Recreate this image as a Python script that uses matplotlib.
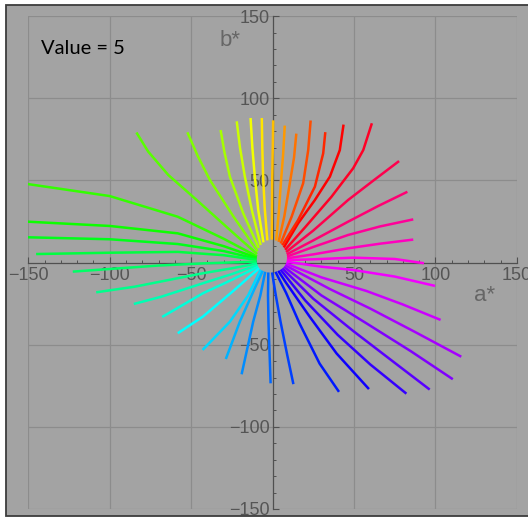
import matplotlib.pyplot as plt
from matplotlib.patches import Rectangle
from matplotlib.ticker import MultipleLocator
from matplotlib.colors import hsv_to_rgb

# hue lines at value 5, listed counterclockwise starting from the green one at upper left
# each line runs from its outer end towards the centre
curve_a = [
    [-150.3, -100, -58.2, -30, -9.6],
    [-150.3, -100, -58.2, -30, -9.7],
    [-150.3, -100, -58.2, -30, -9.8],
    [-145.2, -100, -58.2, -30, -9.8],
    [-122.7, -100, -70, -42.8, -9.7],
    [-108.3, -84.8, -42.8, -25, -9.5],
    [-85.2, -68.4, -42.8, -25, -9.2],
    [-67.8, -42.8, -25, -8.8],
    [-58.2, -42.8, -25, -8.2],
    [-43.0, -26.2, -15, -7.3],
    [-28.7, -20.1, -12, -6.0],
    [-19.0, -11.9, -7.5, -4.5],
    [-1.2, -2.5, -2.8, -2.6],
    [12.8, 9.0, 4.9, 2.0, -0.3],
    [40.8, 28.9, 16.5, 8.3, 1.8],
    [59.2, 39.3, 22.7, 8.3, 3.5],
    [82.2, 60, 40, 20, 4.9],
    [96.5, 75, 50, 25, 6.0],
    [110.7, 85, 57.7, 30, 7.0],
    [115.9, 88, 60, 35, 7.7],
    [103.2, 80, 57.7, 30, 8.2],
    [99.8, 75, 49.5, 30, 8.6],
    [93.0, 75, 49.5, 25, 8.8],
    [86.4, 66, 46.4, 25, 8.9],
    [86.4, 66, 46.4, 25, 8.9],
    [82.8, 65, 46.4, 25, 8.7],
    [77.7, 62, 46.4, 25, 8.3],
    [61.0, 55.7, 49.5, 36.2, 20, 7.7],
    [43.6, 41.3, 35.2, 26, 15.7, 6.9],
    [32.4, 31.1, 26, 15.7, 6.0],
    [23.4, 21.9, 18.8, 11.7, 5.0],
    [14.6, 13.2, 10.6, 7.2, 3.7],
    [7.5, 6.5, 5.1, 3.8, 2.2],
    [0.4, -0.2, -0.5],
    [-6.6, -6.3, -5.8, -4.8, -3.2],
    [-13.5, -12.4, -10.9, -8.8, -5.6],
    [-22.0, -20, -17, -12.5, -7.3],
    [-31.9, -29.5, -26.2, -18, -8.5],
    [-52.3, -46, -38.5, -24, -9.2],
    [-83.6, -76.4, -64, -47.5, -26.9, -9.5],
]
curve_b = [
    [47.8, 40.5, 27.9, 14.5, 3.8],
    [24.9, 22.3, 17.8, 10, 3.0],
    [15.4, 14.2, 11.3, 7, 2.3],
    [5.2, 6.0, 6.5, 4.5, 1.6],
    [-5.5, -3.9, -1.8, -0.5, 0.6],
    [-18.1, -14.7, -6.5, -3.5, -0.5],
    [-25.2, -20.8, -12.6, -7, -1.5],
    [-33.1, -18.7, -10.5, -2.5],
    [-43.0, -32.9, -18, -3.4],
    [-53.2, -36.0, -20, -4.3],
    [-58.7, -36.0, -18, -5.0],
    [-68.0, -36.0, -20, -5.6],
    [-73.5, -36.0, -20, -6.0],
    [-74.0, -56.2, -36.0, -20, -6.0],
    [-78.7, -61.5, -36.9, -18.4, -5.6],
    [-77.0, -55.3, -32.8, -12.3, -5.0],
    [-79.8, -62, -44, -23, -4.3],
    [-77.3, -61, -42, -22, -3.5],
    [-71.0, -54, -37, -20, -2.6],
    [-57.3, -42.5, -28, -16, -1.6],
    [-34.9, -25.5, -17.3, -9, -0.6],
    [-14.2, -8.5, -4.5, -2.5, 0.5],
    [-0.4, 2.2, 3.0, 2.0, 1.5],
    [14.0, 11.5, 8.7, 5, 2.6],
    [26.3, 22, 16.8, 9.5, 3.7],
    [43.1, 34.5, 24.9, 13.5, 5.0],
    [61.8, 50, 38.1, 19.5, 6.4],
    [84.8, 68.5, 57.4, 40.1, 21.5, 7.8],
    [84.0, 68.5, 52.3, 38.1, 23.9, 9.2],
    [79.4, 66.5, 46.2, 25.9, 10.5],
    [86.5, 68.5, 48.3, 27.9, 11.6],
    [78.5, 64, 48.3, 28, 12.6],
    [83.4, 66, 48.3, 30, 13.4],
    [86.6, 50, 14.0],
    [88.0, 70, 52.3, 33, 13.5],
    [88.0, 70, 52.3, 32, 12.3],
    [86.0, 70, 52.3, 31, 10.7],
    [80.7, 67, 52.3, 30, 8.9],
    [79.3, 65, 50.3, 28, 6.9],
    [79.2, 67.6, 53.3, 38.9, 20.5, 5.2],
]

x_ticks = [-150, -100, -50, 50, 100, 150]
y_ticks = [-150, -100, -50, 50, 100, 150]
grid_lines = [-150, -100, -50, 50, 100, 150]

fig = plt.figure(figsize=(5.28, 5.17), dpi=100, facecolor="white")

# grey panel with dark frame behind the plot
fig.patches.append(Rectangle((6 / 528, 1 / 517), 530 / 528, 511 / 517,
                             transform=fig.transFigure, facecolor="#a3a3a3",
                             edgecolor="#3c3c3c", linewidth=1.3, zorder=-10))

ax = fig.add_axes([0.0536, 0.0155, 0.9252, 0.9532])
ax.set_zorder(5)
ax.set_facecolor("none")
ax.set_xlim(-150, 150)
ax.set_ylim(-150, 150)

for g in grid_lines:
    ax.axvline(g, color="#8c8c8c", linewidth=0.9, zorder=0)
    ax.axhline(g, color="#8c8c8c", linewidth=0.9, zorder=0)

for s in ["top", "right"]:
    ax.spines[s].set_visible(False)
for s in ["left", "bottom"]:
    ax.spines[s].set_position(("data", 0))
    ax.spines[s].set_color("#505050")
    ax.spines[s].set_linewidth(0.9)
    ax.spines[s].set_zorder(1)

ax.set_xticks(x_ticks)
ax.set_yticks(y_ticks)
ax.set_xticklabels([str(t).replace("-", "\u2212") for t in x_ticks])
ax.set_yticklabels([str(t).replace("-", "\u2212") for t in y_ticks])
ax.xaxis.set_minor_locator(MultipleLocator(10))
ax.yaxis.set_minor_locator(MultipleLocator(10))
ax.tick_params(which="major", direction="in", length=4, width=0.8, color="#505050",
               labelsize=13, labelcolor="#555555")
ax.tick_params(which="minor", direction="in", length=2.5, width=0.7, color="#505050")
ax.tick_params(axis="x", pad=3)
ax.tick_params(axis="y", pad=2)
for lab in ax.get_xticklabels() + ax.get_yticklabels():
    lab.set_family("Liberation Sans")

n = len(curve_a)
for k in range(n):
    hue = ((k + 1 - 29) % n) / n
    col = hsv_to_rgb((hue, 1.0, 1.0))
    ax.plot(curve_a[k], curve_b[k], color=col, linewidth=1.8,
            solid_capstyle="butt", solid_joinstyle="round", zorder=3, clip_on=True)

ax.text(130.4, -20.3, "a*", ha="center", va="center", fontsize=16,
        color="#666666", family="Liberation Sans")
ax.text(-25.9, 135.2, "b*", ha="center", va="center", fontsize=16,
        color="#666666", family="Liberation Sans")

ax.text(41 / 528, 1 - 54 / 517, "Value = 5", transform=fig.transFigure,
        ha="left", va="baseline", fontsize=14.5, color="black", family="Lato",
        zorder=10)

fig.savefig("out.png", dpi=100, facecolor="white")
